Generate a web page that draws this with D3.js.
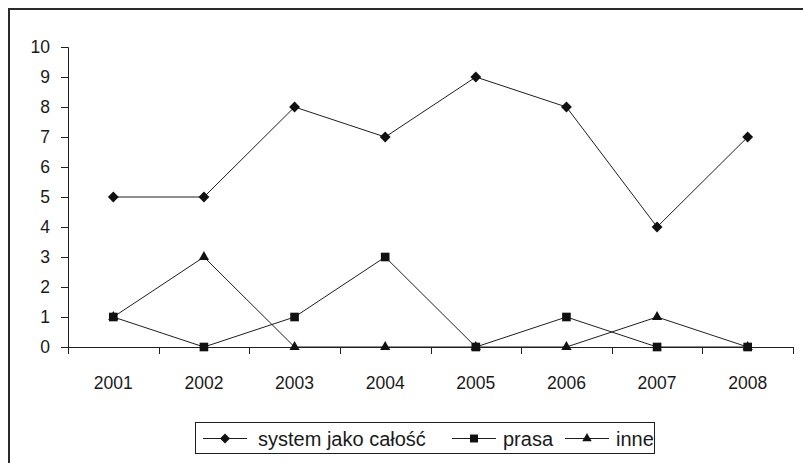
<!DOCTYPE html>
<html><head><meta charset="utf-8">
<script src="https://cdn.jsdelivr.net/npm/d3@7"></script>
<style>body{margin:0;background:#fff}svg{display:block}text{font-family:"Liberation Sans",Arial,sans-serif;fill:#1a1a1a}</style>
</head><body>
<svg id="c" width="803" height="463"></svg>
<script>
const years = ["2001","2002","2003","2004","2005","2006","2007","2008"];
const systemValues = [5,5,8,7,9,8,4,7];
const prasaValues = [1,0,1,3,0,1,0,0];
const inneValues = [1,3,0,0,0,0,1,0];
const yTicks = [0,1,2,3,4,5,6,7,8,9,10];
const seriesNames = ["system jako całość","prasa","inne"];

const series = [
  {name: seriesNames[0], values: systemValues, symbol: d3.symbolDiamond2, size: 75},
  {name: seriesNames[1], values: prasaValues, symbol: d3.symbolSquare2, size: 95},
  {name: seriesNames[2], values: inneValues, symbol: d3.symbolTriangle2, size: 75}
];

const svg = d3.select("#c");
const ink = "#1e1e1e";

// outer frame (runs off the right and bottom edges)
svg.append("path").attr("d","M9,470V9H810").attr("fill","none").attr("stroke","#2a2a2a").attr("stroke-width",2);

const x = d3.scaleBand().domain(years).range([68,793]);
const y = d3.scaleLinear().domain([0,10]).range([347,47]);

// y axis
const ya = svg.append("g").attr("transform","translate(68,0)")
  .call(d3.axisLeft(y).tickValues(yTicks).tickSize(7).tickPadding(11).tickFormat(d3.format("d")));
ya.select(".domain").attr("d","M-7,47.5H0.5V347.5").attr("stroke",ink);
ya.selectAll(".tick line").attr("stroke",ink);
ya.selectAll("text").style("font-size","17.5px").attr("fill",ink);

// x axis with ticks between categories
const xa = svg.append("g").attr("transform","translate(0,347)");
xa.append("line").attr("x1",68).attr("x2",793).attr("y1",0.5).attr("y2",0.5).attr("stroke",ink);
const bounds = years.map(d => x(d) + x.bandwidth()).concat([x(years[0])]);
xa.selectAll("line.t").data(bounds).join("line").attr("class","t")
  .attr("x1",d=>Math.round(d)+0.5).attr("x2",d=>Math.round(d)+0.5).attr("y1",0).attr("y2",7).attr("stroke",ink);
xa.selectAll("text").data(years).join("text")
  .attr("x",d=>x(d)+x.bandwidth()/2).attr("y",41.5).attr("text-anchor","middle")
  .style("font-size","17.5px").text(d=>d);

const cx = i => x(years[i]) + x.bandwidth()/2;
const line = d3.line().x((d,i)=>cx(i)).y(d=>y(d));

series.forEach(s => {
  svg.append("path").attr("d",line(s.values)).attr("fill","none").attr("stroke",ink).attr("stroke-width",1);
});
series.forEach(s => {
  svg.append("g").selectAll("path").data(s.values).join("path")
    .attr("transform",(d,i)=>`translate(${cx(i)},${y(d)})`)
    .attr("d",d3.symbol().type(s.symbol).size(s.size)).attr("fill","#111");
});

// legend
const lg = svg.append("g");
lg.append("rect").attr("x",195.5).attr("y",422.5).attr("width",459).attr("height",31).attr("fill","#fff").attr("stroke",ink);
const legendPos = [203,452,565];
const legendText = [258,503,616];
series.forEach((s,i) => {
  const g = lg.append("g");
  g.append("line").attr("x1",legendPos[i]).attr("x2",legendPos[i]+44).attr("y1",438.5).attr("y2",438.5).attr("stroke",ink);
  g.append("path").attr("transform",`translate(${legendPos[i]+22},438.5)`)
    .attr("d",d3.symbol().type(s.symbol).size(s.size*0.85)).attr("fill","#111");
  g.append("text").attr("x",legendText[i]).attr("y",446).style("font-size","20px").text(s.name);
});
</script>
</body></html>
